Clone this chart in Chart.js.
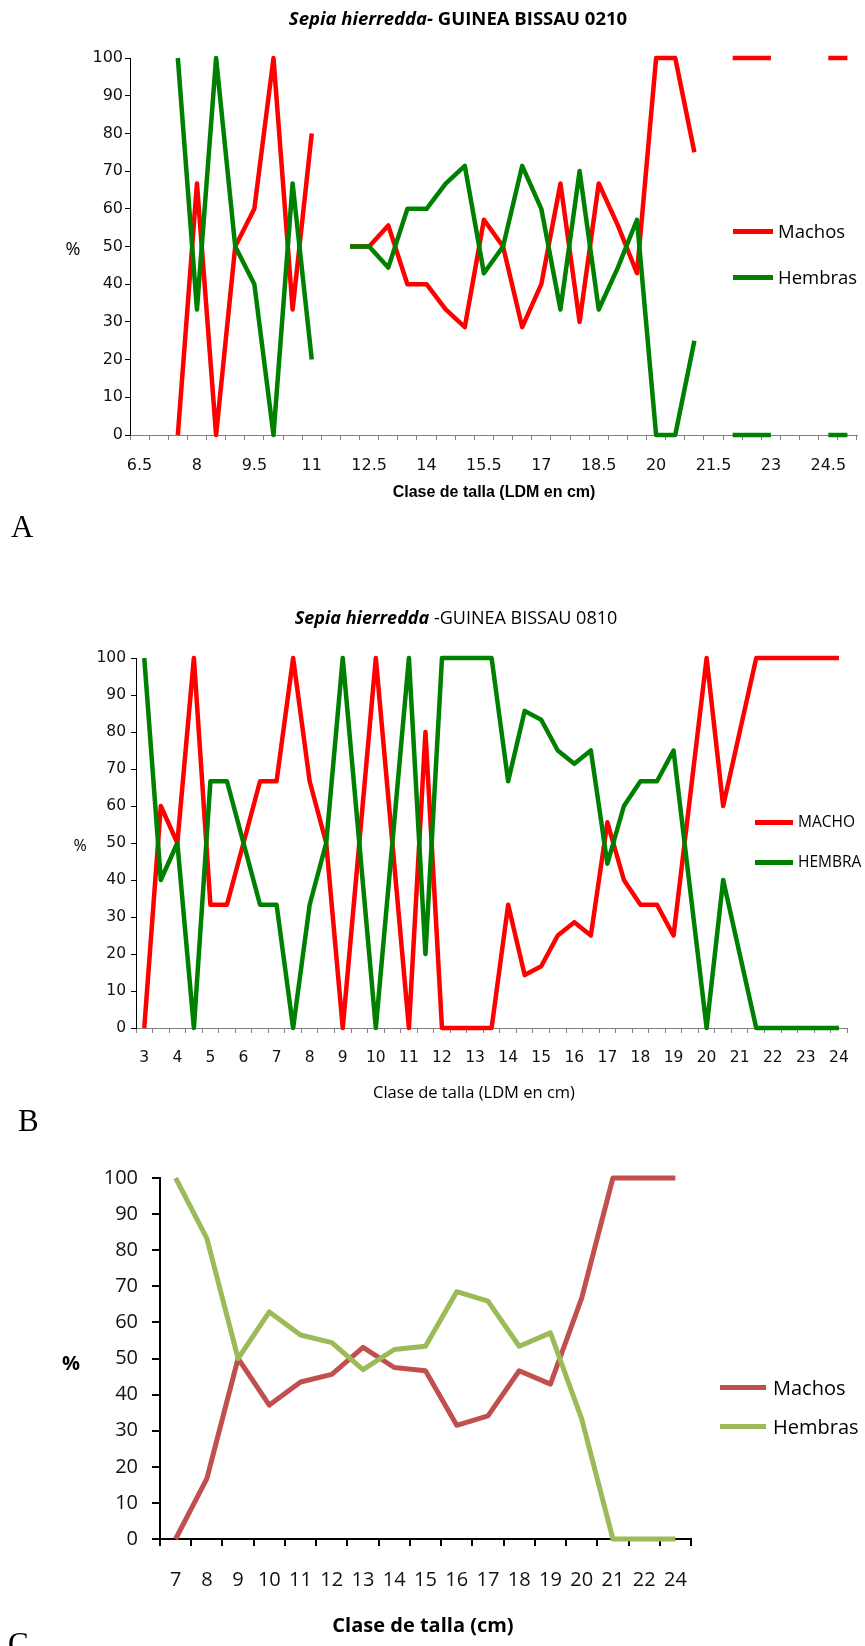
<!DOCTYPE html>
<html>
<head>
<meta charset="utf-8">
<title>Sepia hierredda - proporcion de sexos por talla</title>
<script src="https://cdn.jsdelivr.net/npm/chart.js@4.4.0/dist/chart.umd.min.js"></script>
<style>
    html, body { margin: 0; padding: 0; background: #fff; }
    body { width: 865px; height: 1646px; position: relative; overflow: hidden; font-family: 'Open Sans', sans-serif; color: #000; }
    canvas { position: absolute; left: 0; }
    .txt { position: absolute; white-space: nowrap; line-height: 1; }
    .c { transform: translate(-50%, -50%); }
    .l { transform: translateY(-50%); }
    .lg { position: absolute; }
    .panel { position: absolute; font-family: 'Liberation Serif', serif; font-size: 31px; line-height: 1; }
</style>
</head>
<body>
<canvas id="chartA" width="865" height="560" style="top:0"></canvas>
<canvas id="chartB" width="865" height="580" style="top:560px"></canvas>
<canvas id="chartC" width="865" height="506" style="top:1140px"></canvas>

<!-- Chart A texts -->
<div class="txt c" style="left:458px;top:18px;font-size:18.5px;font-weight:700"><i>Sepia hierredda-</i> GUINEA BISSAU 0210</div>
<div class="txt c" style="left:73px;top:248px;font-size:18px">%</div>
<div class="lg" style="left:733px;top:229px;width:40px;height:4.5px;background:#ff0000"></div>
<div class="txt l" style="left:778px;top:231px;font-size:18.5px">Machos</div>
<div class="lg" style="left:733px;top:275px;width:40px;height:4.5px;background:#008000"></div>
<div class="txt l" style="left:778px;top:277px;font-size:18.5px">Hembras</div>
<div class="txt c" style="left:494px;top:492px;font-size:16px;font-weight:700;font-family:'Liberation Sans',sans-serif">Clase de talla (LDM en cm)</div>
<div class="panel" style="left:11px;top:511px">A</div>

<!-- Chart B texts -->
<div class="txt c" style="left:456px;top:617px;font-size:18px"><b><i>Sepia hierredda</i></b> -GUINEA BISSAU 0810</div>
<div class="txt c" style="left:80px;top:845px;font-size:16px">%</div>
<div class="lg" style="left:755px;top:820px;width:38px;height:4.5px;background:#ff0000"></div>
<div class="txt l" style="left:798px;top:822px;font-size:15.5px">MACHO</div>
<div class="lg" style="left:755px;top:860px;width:38px;height:4.5px;background:#008000"></div>
<div class="txt l" style="left:798px;top:862px;font-size:15.5px">HEMBRA</div>
<div class="txt c" style="left:474px;top:1092px;font-size:16.5px">Clase de talla (LDM en cm)</div>
<div class="panel" style="left:18px;top:1105px">B</div>

<!-- Chart C texts -->
<div class="txt c" style="left:71px;top:1363px;font-size:20px;font-weight:700">%</div>
<div class="lg" style="left:720px;top:1385px;width:46px;height:5px;background:#c0504d"></div>
<div class="txt l" style="left:773px;top:1388px;font-size:20px">Machos</div>
<div class="lg" style="left:720px;top:1424px;width:46px;height:5px;background:#9bbb59"></div>
<div class="txt l" style="left:773px;top:1427px;font-size:20px">Hembras</div>
<div class="txt c" style="left:423px;top:1625px;font-size:20px;font-weight:700">Clase de talla (cm)</div>
<div class="panel" style="left:8px;top:1628px">C</div>

<script>
// ---- A: GUINEA BISSAU 0210 ----
const sizesA = ['6.5', '7', '7.5', '8', '8.5', '9', '9.5', '10', '10.5', '11', '11.5', '12', '12.5',
    '13', '13.5', '14', '14.5', '15', '15.5', '16', '16.5', '17', '17.5', '18', '18.5', '19', '19.5',
    '20', '20.5', '21', '21.5', '22', '22.5', '23', '23.5', '24', '24.5', '25'];
const tickLabelsA = ['6.5', '8', '9.5', '11', '12.5', '14', '15.5', '17', '18.5', '20', '21.5', '23', '24.5'];
const machosA = [null, null, 0, 66.7, 0, 50, 60, 100, 33.3, 80, null, 50, 50,
    55.6, 40, 40, 33.3, 28.6, 57.1, 50, 28.6, 40, 66.7, 30, 66.7, 55.6, 42.9,
    100, 100, 75, null, 100, 100, 100, null, null, 100, 100];
const hembrasA = [null, null, 100, 33.3, 100, 50, 40, 0, 66.7, 20, null, 50, 50,
    44.4, 60, 60, 66.7, 71.4, 42.9, 50, 71.4, 60, 33.3, 70, 33.3, 44.4, 57.1,
    0, 0, 25, null, 0, 0, 0, null, null, 0, 0];

// ---- B: GUINEA BISSAU 0810 ----
const sizesB = ['3', '3.5', '4', '4.5', '5', '5.5', '6', '6.5', '7', '7.5', '8', '8.5', '9', '9.5',
    '10', '10.5', '11', '11.5', '12', '12.5', '13', '13.5', '14', '14.5', '15', '15.5', '16', '16.5',
    '17', '17.5', '18', '18.5', '19', '19.5', '20', '20.5', '21', '21.5', '22', '22.5', '23', '23.5', '24'];
const tickLabelsB = ['3', '4', '5', '6', '7', '8', '9', '10', '11', '12', '13', '14', '15', '16',
    '17', '18', '19', '20', '21', '22', '23', '24'];
const machoB = [0, 60, 50, 100, 33.3, 33.3, 50, 66.7, 66.7, 100, 66.7, 50, 0, 50,
    100, 50, 0, 80, 0, 0, 0, 0, 33.3, 14.3, 16.7, 25, 28.6, 25,
    55.6, 40, 33.3, 33.3, 25, 62.5, 100, 60, 80, 100, 100, 100, 100, 100, 100];
const hembraB = [100, 40, 50, 0, 66.7, 66.7, 50, 33.3, 33.3, 0, 33.3, 50, 100, 50,
    0, 50, 100, 20, 100, 100, 100, 100, 66.7, 85.7, 83.3, 75, 71.4, 75,
    44.4, 60, 66.7, 66.7, 75, 37.5, 0, 40, 20, 0, 0, 0, 0, 0, 0];

// ---- C: total ----
const sizesC = ['7', '8', '9', '10', '11', '12', '13', '14', '15', '16', '17', '18', '19', '20', '21', '22', '24'];
const machosC = [0, 16.7, 50, 37.1, 43.5, 45.6, 53.1, 47.5, 46.6, 31.5, 34.1, 46.6, 42.9, 66.7, 100, 100, 100];
const hembrasC = [100, 83.3, 50, 62.9, 56.5, 54.4, 46.9, 52.5, 53.4, 68.5, 65.9, 53.4, 57.1, 33.3, 0, 0, 0];

/**
 * Build one Excel-like line chart; layout numbers place the plot area
 */
function buildChart(id, cfg) {
    const ctx = document.getElementById(id).getContext('2d');
    const lineDs = (label, data, color, order) => ({
        label: label,
        data: data,
        borderColor: color,
        backgroundColor: color,
        borderWidth: cfg.lineWidth,
        pointRadius: 0,
        tension: 0,
        spanGaps: false,
        borderJoinStyle: 'round',
        clip: false,
        order: order
    });
    const tickFont = { family: cfg.font, size: cfg.fontSize };

    return new Chart(ctx, {
        type: 'line',
        data: {
            labels: cfg.labels,
            datasets: [
                lineDs(cfg.names[0], cfg.machos, cfg.colors[0], 1),
                // second series drawn on top, as in the original
                lineDs(cfg.names[1], cfg.hembras, cfg.colors[1], 0)
            ]
        },
        options: {
            responsive: false,
            animation: false,
            devicePixelRatio: 1,
            layout: { padding: cfg.padding },
            plugins: {
                legend: { display: false },
                tooltip: { enabled: false }
            },
            scales: {
                x: {
                    type: 'category',
                    offset: true,
                    grid: {
                        display: true,
                        offset: true,
                        drawOnChartArea: false,
                        drawTicks: true,
                        tickLength: cfg.xTickLen,
                        color: cfg.xAxisColor,
                        lineWidth: cfg.tickWidth
                    },
                    border: { display: true, color: cfg.xAxisColor, width: cfg.axisWidth },
                    ticks: {
                        autoSkip: false,
                        maxRotation: 0,
                        minRotation: 0,
                        padding: cfg.xPad,
                        color: '#111',
                        font: tickFont,
                        callback: function (value) {
                            const label = this.getLabelForValue(value);
                            return cfg.shown.includes(label) ? label : '';
                        }
                    },
                    afterFit: (scale) => { scale.height = cfg.xHeight; }
                },
                y: {
                    min: 0,
                    max: 100,
                    grid: {
                        display: true,
                        drawOnChartArea: false,
                        drawTicks: true,
                        tickLength: cfg.yTickLen,
                        color: cfg.yAxisColor,
                        lineWidth: cfg.tickWidth
                    },
                    border: { display: true, color: cfg.yAxisColor, width: cfg.axisWidth },
                    ticks: {
                        stepSize: 10,
                        padding: cfg.yPad,
                        color: '#111',
                        font: tickFont
                    },
                    afterFit: (scale) => { scale.width = cfg.yWidth; }
                }
            }
        }
    });
}

buildChart('chartA', {
    labels: sizesA, shown: tickLabelsA, machos: machosA, hembras: hembrasA,
    names: ['Machos', 'Hembras'], colors: ['#ff0000', '#008000'],
    lineWidth: 4.5, font: "'DejaVu Sans', sans-serif", fontSize: 16,
    padding: { top: 58, right: 8, left: 0, bottom: 0 },
    yWidth: 130, xHeight: 125,
    xTickLen: 5, yTickLen: 5, xPad: 16, yPad: 2,
    xAxisColor: '#808080', yAxisColor: '#000', axisWidth: 1, tickWidth: 1
});

buildChart('chartB', {
    labels: sizesB, shown: tickLabelsB, machos: machoB, hembras: hembraB,
    names: ['MACHO', 'HEMBRA'], colors: ['#ff0000', '#008000'],
    lineWidth: 4.5, font: "'DejaVu Sans', sans-serif", fontSize: 15.5,
    padding: { top: 98, right: 17, left: 0, bottom: 0 },
    yWidth: 136, xHeight: 112,
    xTickLen: 5, yTickLen: 5, xPad: 16, yPad: 5,
    xAxisColor: '#808080', yAxisColor: '#000', axisWidth: 1, tickWidth: 1
});

buildChart('chartC', {
    labels: sizesC, shown: sizesC, machos: machosC, hembras: hembrasC,
    names: ['Machos', 'Hembras'], colors: ['#c0504d', '#9bbb59'],
    lineWidth: 5, font: "'Open Sans', sans-serif", fontSize: 20,
    padding: { top: 38, right: 174, left: 0, bottom: 0 },
    yWidth: 160, xHeight: 107,
    xTickLen: 7, yTickLen: 8, xPad: 22, yPad: 14,
    xAxisColor: '#000', yAxisColor: '#000', axisWidth: 2, tickWidth: 2
});
</script>
</body>
</html>
